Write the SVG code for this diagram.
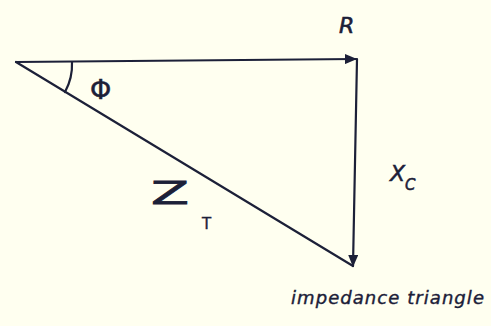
<svg xmlns="http://www.w3.org/2000/svg" width="491" height="326" viewBox="0 0 491 326">
<defs>
<style>
.ln{stroke:#1c2038;stroke-width:2.2;fill:none;stroke-linecap:round}
.t{font-family:"DejaVu Sans",sans-serif;fill:#1c2038}
.i{font-style:italic}
</style>
<marker id="ah" viewBox="0 0 12 10" refX="11" refY="5" markerWidth="12" markerHeight="10" markerUnits="userSpaceOnUse" orient="auto">
<path d="M0,0 L12,5 L0,10 Z" fill="#1c2038"/>
</marker>
</defs>
<rect width="491" height="326" fill="#fffff0"/>
<g id="connectors">
<line id="R-vec" class="ln" x1="16" y1="62" x2="356" y2="59" marker-end="url(#ah)"/>
<line id="Xc-vec" class="ln" x1="357" y1="59" x2="353" y2="266" marker-end="url(#ah)"/>
<line id="Zt-vec" class="ln" x1="16" y1="62" x2="353" y2="266"/>
<path id="angle-arc" class="ln" d="M72,62 A57,57 0 0 1 65,92" stroke-width="1.8"/>
</g>
<g id="label-R"><text class="t i" x="339" y="33" font-size="22" stroke="#1c2038" stroke-width="0.6">R</text></g>
<g id="label-phi"><text class="t" x="90" y="99" font-size="27" stroke="#1c2038" stroke-width="0.5">Φ</text></g>
<g id="label-Xc"><text class="t i" x="390" y="181" font-size="22" stroke="#1c2038" stroke-width="0.5">X<tspan font-size="15" dy="9">C</tspan></text></g>
<g id="label-Zt"><text class="t" x="151" y="204" font-size="32" textLength="38" lengthAdjust="spacingAndGlyphs" stroke="#1c2038" stroke-width="0.8">Z</text><text class="t" x="202" y="229" font-size="15" stroke="#1c2038" stroke-width="0.4">T</text></g>
<g id="caption"><text class="t i" x="291" y="304" font-size="18" textLength="193" lengthAdjust="spacing" stroke="#1c2038" stroke-width="0.4">impedance triangle</text></g>
</svg>
